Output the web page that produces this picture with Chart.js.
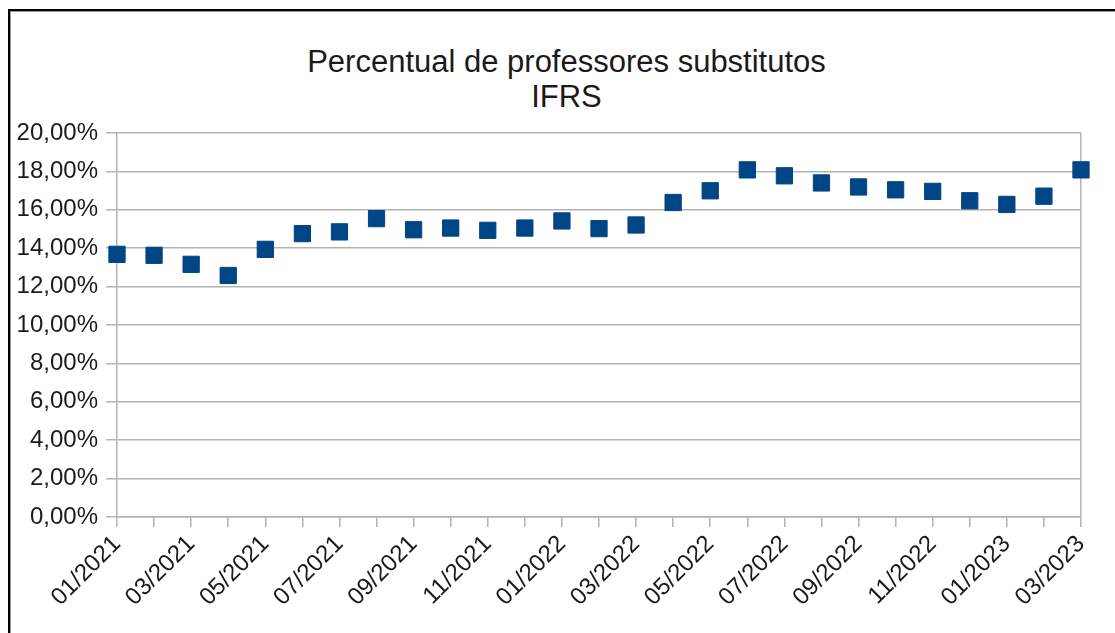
<!DOCTYPE html>
<html>
<head>
<meta charset="utf-8">
<script src="https://cdn.jsdelivr.net/npm/chart.js@4/dist/chart.umd.min.js"></script>
<style>
    html, body { margin: 0; padding: 0; background: #fff; overflow: hidden; }
    #wrap { position: relative; width: 1115px; height: 633px; }
    #frame {
        position: absolute; left: 8px; top: 9px; width: 1200px; height: 700px;
        border-left: 2px solid #000; border-top: 2px solid #000;
        box-shadow: inset 1px 1px 0 #9a9a9a;
    }
    #titulo {
        position: absolute; left: 0; top: 44px; width: 1133px;
        text-align: center; color: #1a1a1a;
        font: 31px/35px 'Liberation Sans', Arial, sans-serif;
    }
    canvas { position: absolute; left: 0; top: 0; }
</style>
</head>
<body>
<div id="wrap">
    <div id="frame"></div>
    <div id="titulo"></div>
    <canvas id="chart" width="1115" height="633"></canvas>
</div>
<script>
// Meses (categorias do eixo X)
const meses = [
    '01/2021', '02/2021', '03/2021', '04/2021', '05/2021', '06/2021', '07/2021', '08/2021', '09/2021',
    '10/2021', '11/2021', '12/2021', '01/2022', '02/2022', '03/2022', '04/2022', '05/2022', '06/2022',
    '07/2022', '08/2022', '09/2022', '10/2022', '11/2022', '12/2022', '01/2023', '02/2023', '03/2023'
];

// Percentual de professores substitutos (%)
const percentual = [
    13.68, 13.63, 13.16, 12.58, 13.94, 14.76, 14.85, 15.54, 14.96,
    15.05, 14.93, 15.05, 15.42, 15.02, 15.21, 16.38, 16.99, 18.08,
    17.77, 17.40, 17.19, 17.04, 16.96, 16.47, 16.28, 16.71, 18.08
];

const tituloLinhas = ['Percentual de professores substitutos', 'IFRS'];

const corSerie = '#004586';
const corGrade = '#b3b3b3';
const corTexto = '#1a1a1a';
const fonte = "'Liberation Sans', Arial, sans-serif";

const formatPct = v => v.toFixed(2).replace('.', ',') + '%';

// título como texto HTML, centrado como no original
const titulo = document.getElementById('titulo');
tituloLinhas.forEach(t => {
    const linha = document.createElement('div');
    linha.textContent = t;
    titulo.appendChild(linha);
});

new Chart(document.getElementById('chart'), {
    type: 'line',
    data: {
        labels: meses,
        datasets: [{
            label: 'Percentual',
            data: percentual,
            showLine: false,
            pointStyle: 'rect',
            pointRadius: 11.5,
            pointHoverRadius: 11.5,
            pointBackgroundColor: corSerie,
            pointBorderColor: corSerie,
            pointBorderWidth: 1,
            clip: false
        }]
    },
    options: {
        responsive: false,
        animation: false,
        layout: { padding: { left: 0, right: 34, top: 133, bottom: 0 } },
        plugins: {
            legend: { display: false },
            tooltip: { enabled: false }
        },
        scales: {
            x: {
                offset: false,
                grid: {
                    color: ctx => (ctx.index === meses.length - 1 ? corGrade : 'transparent'),
                    tickColor: corGrade,
                    tickLength: 10,
                    lineWidth: 1.5
                },
                border: { color: corGrade, width: 1.5 },
                ticks: {
                    autoSkip: false,
                    minRotation: 45,
                    maxRotation: 45,
                    color: corTexto,
                    font: { family: fonte, size: 24 },
                    callback: function (value, index) {
                        return index % 2 === 0 ? this.getLabelForValue(value) : '';
                    }
                },
                afterFit: scale => { scale.height = 116; }
            },
            y: {
                min: 0,
                max: 20,
                grid: { color: corGrade, tickLength: 11, lineWidth: 1.5 },
                border: { color: corGrade, width: 1.5 },
                ticks: {
                    stepSize: 2,
                    padding: 8,
                    color: corTexto,
                    font: { family: fonte, size: 24 },
                    callback: v => formatPct(v)
                },
                afterFit: scale => { scale.width = 117; }
            }
        }
    }
});
</script>
</body>
</html>
